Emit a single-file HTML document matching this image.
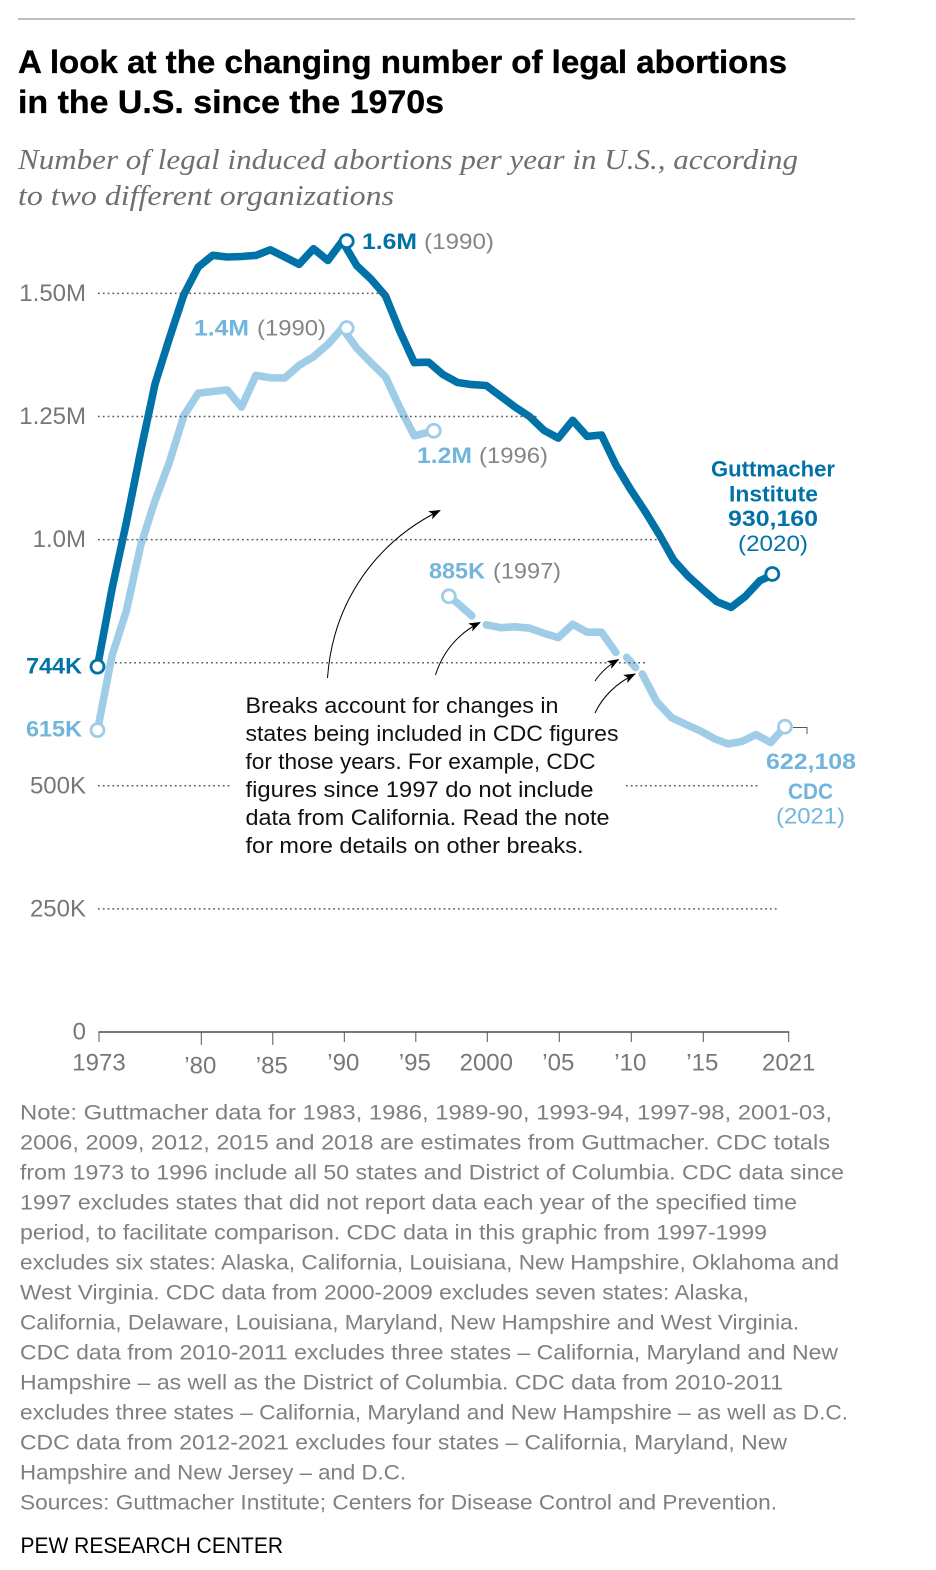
<!DOCTYPE html>
<html lang="en">
<head>
<meta charset="utf-8">
<title>A look at the changing number of legal abortions in the U.S. since the 1970s</title>
<style>
html,body{margin:0;padding:0;background:#fff;width:936px;height:1570px;overflow:hidden}
svg{display:block}
text{font-family:"Liberation Sans",sans-serif}
.title{font-size:32px;font-weight:700;fill:#000;stroke:#000;stroke-width:.35px}
.sub{font-family:"Liberation Serif",serif;font-style:italic;font-size:29px;fill:#6f6f6f}
.tick{font-size:24px;fill:#777}
.note{font-size:21.5px;fill:#808080}
.ann{font-size:22.5px;fill:#111}
.gb{font-size:22px;font-weight:700;fill:#0072a8}
.lb{font-size:22px;font-weight:700;fill:#72b5dc}
.yr{font-size:22.5px;fill:#858585}
</style>
</head>
<body>
<svg id="chart" xmlns="http://www.w3.org/2000/svg" width="936" height="1570" viewBox="0 0 936 1570">
<defs>
<marker id="arrowhead" markerWidth="13" markerHeight="10" refX="11" refY="4.5" orient="auto" markerUnits="userSpaceOnUse"><path d="M0,0 L12,4.500 L0,9 L3,4.500 Z" fill="#000"/></marker>
</defs>
<line x1="18" y1="19" x2="855" y2="19" stroke="#808080" stroke-width="1"/>
<text class="title" x="18" y="73" textLength="769" lengthAdjust="spacingAndGlyphs">A look at the changing number of legal abortions</text>
<text class="title" x="18" y="113" textLength="426" lengthAdjust="spacingAndGlyphs">in the U.S. since the 1970s</text>
<text class="sub" x="18" y="169" textLength="780" lengthAdjust="spacingAndGlyphs">Number of legal induced abortions per year in U.S., according</text>
<text class="sub" x="18" y="205" textLength="376" lengthAdjust="spacingAndGlyphs">to two different organizations</text>

<g id="grid"></g>
<g id="series"></g>
<g id="grid-over"></g>
<g id="axis"></g>
<g id="ylabels"></g>
<g id="markers"></g>

<text class="gb" x="362" y="249" textLength="55" lengthAdjust="spacingAndGlyphs">1.6M</text>
<text class="yr" x="424" y="249" textLength="70" lengthAdjust="spacingAndGlyphs">(1990)</text>
<text class="lb" x="194" y="335.500" textLength="55" lengthAdjust="spacingAndGlyphs">1.4M</text>
<text class="yr" x="257" y="335.500" textLength="69" lengthAdjust="spacingAndGlyphs">(1990)</text>
<text class="lb" x="417" y="463" textLength="55" lengthAdjust="spacingAndGlyphs">1.2M</text>
<text class="yr" x="479" y="463" textLength="69" lengthAdjust="spacingAndGlyphs">(1996)</text>
<text class="lb" x="429" y="578.500" textLength="56" lengthAdjust="spacingAndGlyphs">885K</text>
<text class="yr" x="493" y="578.500" textLength="68" lengthAdjust="spacingAndGlyphs">(1997)</text>
<text class="gb" x="26" y="673.500" textLength="56" lengthAdjust="spacingAndGlyphs">744K</text>
<text class="lb" x="26" y="736.500" textLength="56" lengthAdjust="spacingAndGlyphs">615K</text>

<text class="gb" x="711" y="476.500" textLength="124" lengthAdjust="spacingAndGlyphs">Guttmacher</text>
<text class="gb" x="729" y="501.500" textLength="89" lengthAdjust="spacingAndGlyphs">Institute</text>
<text class="gb" x="728" y="526" textLength="90" lengthAdjust="spacingAndGlyphs">930,160</text>
<text x="738" y="551" font-size="22.500" fill="#0072a8" textLength="70" lengthAdjust="spacingAndGlyphs">(2020)</text>
<text class="lb" x="766" y="769" textLength="90" lengthAdjust="spacingAndGlyphs">622,108</text>
<text class="lb" x="788" y="799" textLength="45" lengthAdjust="spacingAndGlyphs">CDC</text>
<text x="776" y="823.500" font-size="22.500" fill="#72b5dc" textLength="69" lengthAdjust="spacingAndGlyphs">(2021)</text>
<path d="M793,727.500 H807 V734" fill="none" stroke="#555" stroke-width="1"/>

<path d="M327.500,678 C333,600 378,541 440,510.500" fill="none" stroke="#000" stroke-width="1" marker-end="url(#arrowhead)"/>
<path d="M435.500,675 C443,651 459,633 480,622.500" fill="none" stroke="#000" stroke-width="1" marker-end="url(#arrowhead)"/>
<path d="M595,681 C601,672 609,665 618.500,659.500" fill="none" stroke="#000" stroke-width="1" marker-end="url(#arrowhead)"/>
<path d="M595,713 C603,696 617,683 635,674" fill="none" stroke="#000" stroke-width="1" marker-end="url(#arrowhead)"/>

<g>
<text class="ann" x="245.500" y="713" textLength="313" lengthAdjust="spacingAndGlyphs">Breaks account for changes in</text>
<text class="ann" x="245.500" y="741" textLength="373" lengthAdjust="spacingAndGlyphs">states being included in CDC figures</text>
<text class="ann" x="245.500" y="769" textLength="350" lengthAdjust="spacingAndGlyphs">for those years. For example, CDC</text>
<text class="ann" x="245.500" y="797" textLength="348" lengthAdjust="spacingAndGlyphs">figures since 1997 do not include</text>
<text class="ann" x="245.500" y="825" textLength="364" lengthAdjust="spacingAndGlyphs">data from California. Read the note</text>
<text class="ann" x="245.500" y="853" textLength="338" lengthAdjust="spacingAndGlyphs">for more details on other breaks.</text>
</g>

<g>
<text class="note" x="20" y="1119.500" textLength="812" lengthAdjust="spacingAndGlyphs">Note: Guttmacher data for 1983, 1986, 1989-90, 1993-94, 1997-98, 2001-03,</text>
<text class="note" x="20" y="1149.500" textLength="810" lengthAdjust="spacingAndGlyphs">2006, 2009, 2012, 2015 and 2018 are estimates from Guttmacher. CDC totals</text>
<text class="note" x="20" y="1179.500" textLength="824" lengthAdjust="spacingAndGlyphs">from 1973 to 1996 include all 50 states and District of Columbia. CDC data since</text>
<text class="note" x="20" y="1209.500" textLength="777" lengthAdjust="spacingAndGlyphs">1997 excludes states that did not report data each year of the specified time</text>
<text class="note" x="20" y="1239.500" textLength="747" lengthAdjust="spacingAndGlyphs">period, to facilitate comparison. CDC data in this graphic from 1997-1999</text>
<text class="note" x="20" y="1269.500" textLength="819" lengthAdjust="spacingAndGlyphs">excludes six states: Alaska, California, Louisiana, New Hampshire, Oklahoma and</text>
<text class="note" x="20" y="1299.500" textLength="729" lengthAdjust="spacingAndGlyphs">West Virginia. CDC data from 2000-2009 excludes seven states: Alaska,</text>
<text class="note" x="20" y="1329.500" textLength="779" lengthAdjust="spacingAndGlyphs">California, Delaware, Louisiana, Maryland, New Hampshire and West Virginia.</text>
<text class="note" x="20" y="1359.500" textLength="818" lengthAdjust="spacingAndGlyphs">CDC data from 2010-2011 excludes three states – California, Maryland and New</text>
<text class="note" x="20" y="1389.500" textLength="763" lengthAdjust="spacingAndGlyphs">Hampshire – as well as the District of Columbia. CDC data from 2010-2011</text>
<text class="note" x="20" y="1419.500" textLength="828" lengthAdjust="spacingAndGlyphs">excludes three states – California, Maryland and New Hampshire – as well as D.C.</text>
<text class="note" x="20" y="1449.500" textLength="767" lengthAdjust="spacingAndGlyphs">CDC data from 2012-2021 excludes four states – California, Maryland, New</text>
<text class="note" x="20" y="1479.500" textLength="386" lengthAdjust="spacingAndGlyphs">Hampshire and New Jersey – and D.C.</text>
<text class="note" x="20" y="1509.500" textLength="757" lengthAdjust="spacingAndGlyphs">Sources: Guttmacher Institute; Centers for Disease Control and Prevention.</text>
</g>
<text x="20.500" y="1553" font-size="22.500" fill="#000" textLength="262.500" lengthAdjust="spacingAndGlyphs">PEW RESEARCH CENTER</text>
</svg>

<script>
// ---- data (thousands of abortions) ----
const guttmacherYears = [1973,1974,1975,1976,1977,1978,1979,1980,1981,1982,1983,1984,1985,1986,1987,1988,1989,1990,1991,1992,1993,1994,1995,1996,1997,1998,1999,2000,2001,2002,2003,2004,2005,2006,2007,2008,2009,2010,2011,2012,2013,2014,2015,2016,2017,2018,2019,2020];
const guttmacherValues = [742,898.6,1034.2,1179.3,1316.7,1409.6,1497.7,1553.9,1577.3,1573.9,1575,1577.2,1588.6,1574,1559.1,1590.8,1566.9,1606,1556.5,1528.9,1495,1423,1359.4,1360.2,1335,1319,1314.8,1313,1291,1269,1250,1222,1206.2,1242.2,1209.6,1212.4,1151.6,1102.7,1058.5,1011,958.7,926.2,899.5,874.1,862.3,885,916.5,930.2];
const cdcYearsA = [1973,1974,1975,1976,1977,1978,1979,1980,1981,1982,1983,1984,1985,1986,1987,1988,1989,1990,1991,1992,1993,1994,1995,1996.35];
const cdcValuesA = [613,763.5,854.9,988.3,1079.4,1157.8,1251.9,1297.6,1300.8,1304,1269,1333.5,1328.6,1328.1,1353.7,1371.3,1396.7,1429.6,1388.9,1359.1,1330.4,1267.4,1210.9,1221];
const cdcYearsB = [1997.4,1998,1999];
const cdcValuesB = [884.8,871,845];
const cdcYearsC = [2000,2001,2002,2003,2004,2005,2006,2007,2008,2009];
const cdcValuesC = [827,821,823,820,810,801,828,812,812,771];
const cdcYearsD = [2009.75,2010.37];
const cdcValuesD = [761,740];
const cdcYearsE = [2010.83,2011.83,2012.88,2013.9,2014.84,2015.88,2016.8,2017.74,2018.73,2019.75,2020.74];
const cdcValuesE = [727,671,638,624,612,595,585,590,604,588,620];
const xTickYears = [1973,1980,1985,1990,1995,2000,2005,2010,2015,2021];
const xTickLabels = ["1973","’80","’85","’90","’95","2000","’05","’10","’15","2021"];
const yTickValues = [0,250,500,1000,1250,1500];
const yTickLabels = ["0","250K","500K","1.0M","1.25M","1.50M"];

// ---- scales ----
const NS = 'http://www.w3.org/2000/svg';
const DARK = '#0072a8';
const LIGHT = '#9fcde8';
function xScale(year){ return 97.5 + 14.4 * (year - 1973); }
function yScale(v){ return 1032 - 0.4924 * v; }
function make(tag, attrs, parent){
  const el = document.createElementNS(NS, tag);
  for (const k in attrs) el.setAttribute(k, attrs[k]);
  parent.appendChild(el);
  return el;
}

// ---- gridlines ----
function gridline(value, x1, x2, name){
  const el = make('line', {x1:x1, x2:x2, y1:yScale(value), y2:yScale(value), stroke:'#5c5c5c', 'stroke-width':1.5, 'stroke-dasharray':'1.8 3'}, document.getElementById('grid-over'));
  
  
}
gridline(1500, 98, 388, 'gridline-1500k');
gridline(1250, 98, 537, 'gridline-1250k');
gridline(1000, 98, 668, 'gridline-1000k');
gridline(750, 115, 647, 'gridline-750k');
gridline(500, 98, 232, 'gridline-500k-left');
gridline(500, 626, 760, 'gridline-500k-right');
gridline(250, 98, 778, 'gridline-250k');

// ---- series ----
function drawLine(years, values, color, name){
  const d = years.map((yr, i) => (i ? 'L' : 'M') + xScale(yr).toFixed(1) + ',' + yScale(values[i]).toFixed(1)).join(' ');
  const el = make('path', {d:d, fill:'none', stroke:color, 'stroke-width':7.6, 'stroke-linejoin':'round', 'stroke-linecap':'round'}, document.getElementById('series'));
  
  
}
drawLine(cdcYearsA, cdcValuesA, LIGHT, 'cdc-line-1973-1996');
drawLine(cdcYearsB, cdcValuesB, LIGHT, 'cdc-line-1997-1999');
drawLine(cdcYearsC, cdcValuesC, LIGHT, 'cdc-line-2000-2009');
drawLine(cdcYearsD, cdcValuesD, LIGHT, 'cdc-line-2010-2011');
drawLine(cdcYearsE, cdcValuesE, LIGHT, 'cdc-line-2012-2021');
drawLine(guttmacherYears, guttmacherValues, DARK, 'guttmacher-line');

// ---- markers: dx is the hand nudge seen in the original annotation layout ----
function marker(years, values, idx, color, dx, name){
  const el = make('circle', {cx:xScale(years[idx]) + dx, cy:yScale(values[idx]), r:6.5, fill:'#fff', stroke:color, 'stroke-width':2.8}, document.getElementById('markers'));
  
  
}
marker(cdcYearsA, cdcValuesA, 0, LIGHT, 0, 'cdc-marker-1973');
marker(cdcYearsA, cdcValuesA, 17, LIGHT, 4.4, 'cdc-marker-1990');
marker(cdcYearsA, cdcValuesA, 23, LIGHT, 0, 'cdc-marker-1996');
marker(cdcYearsB, cdcValuesB, 0, LIGHT, 0, 'cdc-marker-1997');
marker(cdcYearsE, cdcValuesE, 10, LIGHT, 0, 'cdc-marker-2021');
marker(guttmacherYears, guttmacherValues, 0, DARK, 0, 'guttmacher-marker-1973');
marker(guttmacherYears, guttmacherValues, 17, DARK, 4.4, 'guttmacher-marker-1990');
marker(guttmacherYears, guttmacherValues, 47, DARK, -2, 'guttmacher-marker-2020');

// ---- x axis ----
const axisG = document.getElementById('axis');
const axisLine = make('line', {x1:xScale(1973)+1, x2:xScale(2021)+0.5, y1:yScale(0), y2:yScale(0), stroke:'#777', 'stroke-width':2}, axisG);


xTickYears.forEach(function(yr, i){
  const edge = (yr === 1973 || yr === 2021);
  const low = (yr === 1980 || yr === 1985);
  const tx = xScale(yr) + (edge ? (yr === 1973 ? 1.5 : 0) : 1 + Math.max(0, 2000 - yr) * 0.1);
  const tick = make('line', {x1:tx, x2:tx, y1:yScale(0), y2:yScale(0) + (low ? 13 : 10), stroke:'#555', 'stroke-width':1}, axisG);
  
  
  const label = make('text', {x:tx - (edge ? 0 : 1), y:low ? 1073.5 : 1070.5, 'text-anchor':'middle', 'class':'tick'}, axisG);
  label.textContent = xTickLabels[i];
  
  
});

// ---- y labels ----
const yG = document.getElementById('ylabels');
yTickValues.forEach(function(v, i){
  const label = make('text', {x:86, y:yScale(v) + 7.5, 'text-anchor':'end', 'class':'tick'}, yG);
  label.textContent = yTickLabels[i];
  
  
});
</script>
</body>
</html>
